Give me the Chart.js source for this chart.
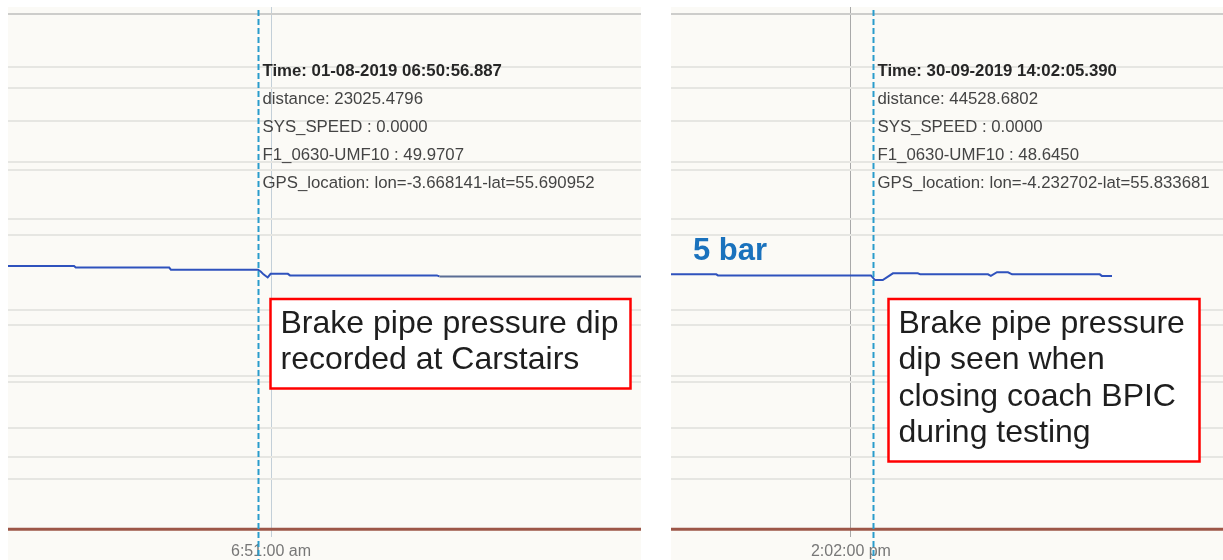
<!DOCTYPE html>
<html>
<head>
    <title>Brake pipe pressure dips</title>
    <script src="https://cdn.jsdelivr.net/npm/chart.js"></script>
    <style>
        body {
            margin: 0;
            background: #fff;
            width: 1223px;
            height: 560px;
            overflow: hidden;
            position: relative;
        }

        .panel {
            position: absolute;
            top: 0;
            height: 560px;
        }

        #leftPanel { left: 8px; width: 633px; }
        #rightPanel { left: 671px; width: 552px; }
    </style>
</head>
<body>
    <div class="panel" id="leftPanel"><canvas id="leftChart" width="633" height="560"></canvas></div>
    <div class="panel" id="rightPanel"><canvas id="rightChart" width="552" height="560"></canvas></div>

    <script>
        // times are seconds since midnight, pressure in the recorder's own units (~5 bar)
        const leftTimes = [24597.5, 24613.2, 24613.6, 24635.8, 24636.2, 24656.9, 24657.6, 24658.2, 24659.2, 24659.9, 24664.0, 24664.5, 24699.4, 24700.0, 24748.0];
        const leftPressure = [50.4, 50.4, 50.1, 50.1, 49.7, 49.7, 49.3, 48.8, 48.2, 48.9, 48.9, 48.6, 48.6, 48.4, 48.4];
        const leftSpeedTimes = [24597.5, 24748.0];
        const leftSpeed = [0, 0];
        const leftRange = [24597.5, 24747.9];
        const leftTicks = [24660];
        const leftCursor = 24656.887;

        const rightTimes = [50475.9, 50487.0, 50487.4, 50524.9, 50525.9, 50527.8, 50530.3, 50536.4, 50537.0, 50553.6, 50554.3, 50555.8, 50558.5, 50559.5, 50581.0, 50581.5, 50584.0];
        const rightPressure = [48.8, 48.8, 48.6, 48.6, 47.7, 47.7, 49.0, 49.0, 48.8, 48.8, 48.5, 49.2, 49.2, 48.8, 48.8, 48.5, 48.5];
        const rightSpeedTimes = [50475.9, 50611.2];
        const rightSpeed = [0, 0];
        const rightRange = [50475.9, 50611.2];
        const rightTicks = [50520];
        const rightCursor = 50525.39;

        // horizontal grid lines of the recorder view
        const gridValues = [98.6, 88.5, 84.5, 78.1, 70.3, 68.8, 59.4, 56.3, 42.0, 39.1, 29.3, 28.2, 19.4, 13.8, 9.6];

        const leftReadout = [
            'Time: 01-08-2019 06:50:56.887',
            'distance: 23025.4796',
            'SYS_SPEED : 0.0000',
            'F1_0630-UMF10 : 49.9707',
            'GPS_location: lon=-3.668141-lat=55.690952'
        ];
        const rightReadout = [
            'Time: 30-09-2019 14:02:05.390',
            'distance: 44528.6802',
            'SYS_SPEED : 0.0000',
            'F1_0630-UMF10 : 48.6450',
            'GPS_location: lon=-4.232702-lat=55.833681'
        ];
        const leftNote = ['Brake pipe pressure dip', 'recorded at Carstairs'];
        const rightNote = ['Brake pipe pressure', 'dip seen when', 'closing coach BPIC', 'during testing'];

        const FONT = '"Liberation Sans", Arial, sans-serif';

        function formatClock(sec) {
            let h = Math.floor(sec / 3600);
            const m = Math.floor((sec % 3600) / 60);
            const s = Math.floor(sec % 60);
            const ampm = h >= 12 ? 'pm' : 'am';
            h = h % 12 || 12;
            return h + ':' + String(m).padStart(2, '0') + ':' + String(s).padStart(2, '0') + ' ' + ampm;
        }

        function toPoints(xs, ys) {
            return xs.map((x, i) => ({ x: x, y: ys[i] }));
        }

        // background, cursor line, readout and the red note box
        const overlay = {
            id: 'overlay',
            beforeDraw(chart) {
                const ctx = chart.ctx;
                const a = chart.chartArea;
                ctx.save();
                ctx.fillStyle = '#fbfaf6';
                ctx.fillRect(0, a.top, chart.width, chart.height - a.top);
                ctx.restore();
            },
            afterDraw(chart, args, o) {
                const ctx = chart.ctx;
                const a = chart.chartArea;
                const cx = Math.round(chart.scales.x.getPixelForValue(o.cursor)) + 0.5;
                ctx.save();

                ctx.strokeStyle = '#2a9ccb';
                ctx.lineWidth = 2;
                ctx.setLineDash([6, 3]);
                ctx.beginPath();
                ctx.moveTo(cx, a.top + 3);
                ctx.lineTo(cx, chart.height);
                ctx.stroke();
                ctx.setLineDash([]);

                ctx.textAlign = 'left';
                ctx.textBaseline = 'middle';
                o.readout.forEach((t, i) => {
                    ctx.font = (i === 0 ? 'bold ' : '') + '16.8px ' + FONT;
                    ctx.fillStyle = i === 0 ? '#262626' : '#444';
                    ctx.fillText(t, cx + 4, a.top + 64 + i * 28);
                });

                const bx = cx + o.noteDx;
                const by = 299;
                const bh = 24 + (o.note.length - 1) * 36.5 + 29;
                ctx.fillStyle = '#ffffff';
                ctx.fillRect(bx, by, o.noteW, bh);
                ctx.strokeStyle = '#ff0000';
                ctx.lineWidth = 2.5;
                ctx.strokeRect(bx, by, o.noteW, bh);
                ctx.font = '32px ' + FONT;
                ctx.fillStyle = '#1e1e1e';
                o.note.forEach((t, i) => {
                    ctx.fillText(t, bx + 10, by + 25 + i * 36.5);
                });

                if (o.unitLabel) {
                    ctx.font = 'bold 31px ' + FONT;
                    ctx.fillStyle = '#1a72bd';
                    ctx.fillText(o.unitLabel, a.left + 22, 251);
                }
                ctx.restore();
            }
        };

        function makePanel(canvasId, cfg) {
            const ctx = document.getElementById(canvasId).getContext('2d');
            return new Chart(ctx, {
                type: 'line',
                data: {
                    datasets: [{
                        label: 'SYS_SPEED',
                        data: toPoints(cfg.speedTimes, cfg.speed),
                        borderColor: '#9c5647',
                        borderWidth: 3,
                        pointRadius: 0,
                        tension: 0
                    }, {
                        label: 'F1_0630-UMF10',
                        data: toPoints(cfg.times, cfg.pressure),
                        borderColor: '#2f52bd',
                        borderWidth: 2,
                        pointRadius: 0,
                        tension: 0,
                        segment: {
                            borderColor: c => (cfg.fadeFrom && c.p0.parsed.x >= cfg.fadeFrom) ? '#5b6d94' : undefined
                        }
                    }]
                },
                options: {
                    responsive: false,
                    animation: false,
                    layout: { padding: { top: 7, left: 0, right: 0, bottom: 0 } },
                    plugins: {
                        legend: { display: false },
                        tooltip: { enabled: false },
                        overlay: {
                            cursor: cfg.cursor,
                            readout: cfg.readout,
                            note: cfg.note,
                            noteDx: cfg.noteDx,
                            noteW: cfg.noteW,
                            unitLabel: cfg.unitLabel
                        }
                    },
                    scales: {
                        x: {
                            type: 'linear',
                            min: cfg.range[0],
                            max: cfg.range[1],
                            afterBuildTicks: s => { s.ticks = cfg.ticks.map(v => ({ value: v })); },
                            afterFit: s => { s.height = 23; },
                            border: { display: false },
                            grid: { color: cfg.tickLine, lineWidth: 1, drawTicks: false },
                            ticks: {
                                padding: 5,
                                color: '#777',
                                font: { family: FONT, size: 16 },
                                maxRotation: 0,
                                callback: v => formatClock(v)
                            }
                        },
                        y: {
                            min: -1.5,
                            max: 100,
                            afterBuildTicks: s => { s.ticks = gridValues.map(v => ({ value: v })); },
                            border: { display: false },
                            grid: {
                                drawTicks: false,
                                lineWidth: 2,
                                color: c => c.tick && c.tick.value === gridValues[0] ? '#cdcdcb' : '#e6e6e2'
                            },
                            ticks: { display: false }
                        }
                    }
                },
                plugins: [overlay]
            });
        }

        makePanel('leftChart', {
            times: leftTimes, pressure: leftPressure,
            speedTimes: leftSpeedTimes, speed: leftSpeed,
            range: leftRange, ticks: leftTicks, cursor: leftCursor,
            readout: leftReadout, note: leftNote,
            noteDx: 12, noteW: 360, tickLine: '#c3cfd8', fadeFrom: 24700
        });

        makePanel('rightChart', {
            times: rightTimes, pressure: rightPressure,
            speedTimes: rightSpeedTimes, speed: rightSpeed,
            range: rightRange, ticks: rightTicks, cursor: rightCursor,
            readout: rightReadout, note: rightNote,
            noteDx: 15, noteW: 311, tickLine: '#a9a9a9', unitLabel: '5 bar'
        });
    </script>
</body>
</html>
